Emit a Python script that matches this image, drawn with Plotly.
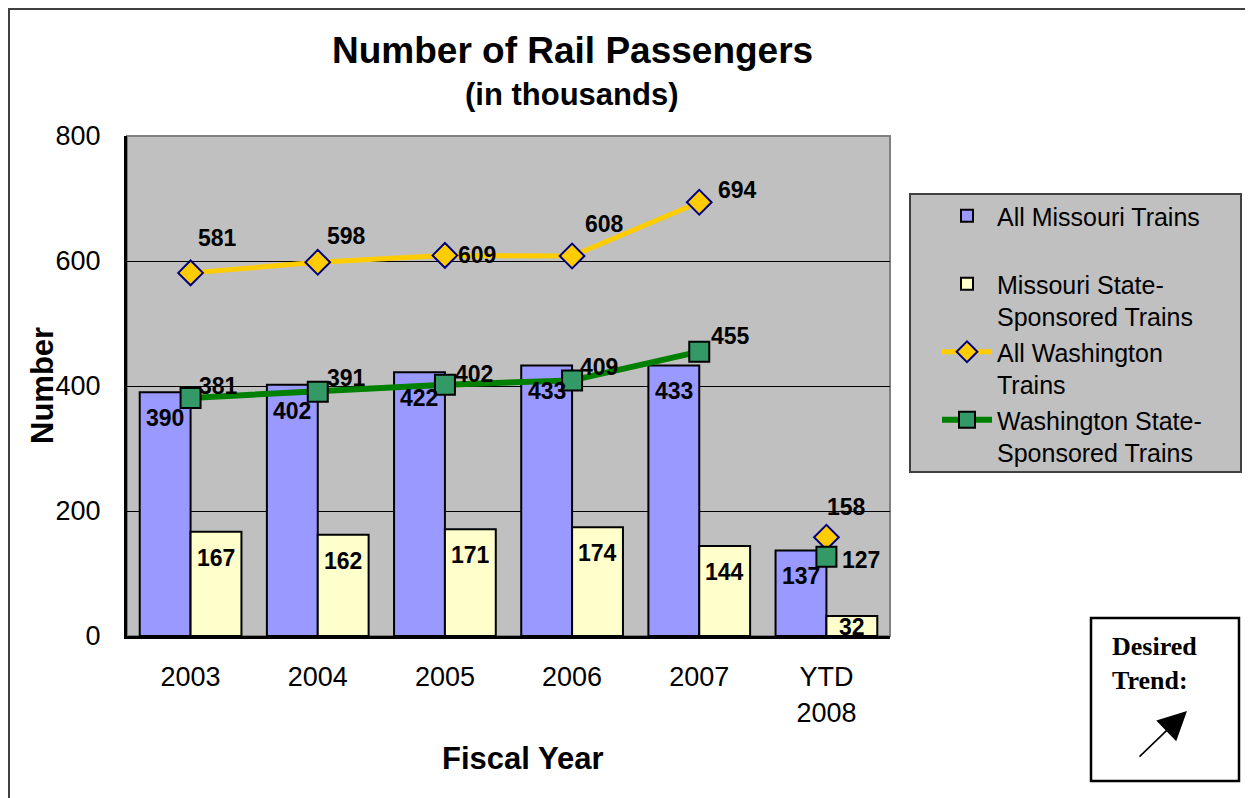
import plotly.graph_objects as go

categories = ["2003", "2004", "2005", "2006", "2007", "YTD<br>2008"]
all_missouri = [390, 402, 422, 433, 433, 137]
missouri_state = [167, 162, 171, 174, 144, 32]
all_washington = [581, 598, 609, 608, 694, 158]
washington_state = [381, 391, 402, 409, 455, 127]

series_names = ["All Missouri Trains<br>&nbsp;", "Missouri State-<br>Sponsored Trains",
                "All Washington<br>Trains", "Washington State-<br>Sponsored Trains"]

# label offsets (pixels) for line labels
yellow_offsets = [(27, 35), (29, 26), (32, 0), (32, 32), (38, 12), (20, 30)]
green_offsets = [(28, 12), (29, 14), (29, 11), (27, 13), (31, 16), (35, -3)]

FONT = "Liberation Sans, Arial, sans-serif"
OFF = 8  # default page body margin
W, H = 1253 - OFF, 798 - OFF
# plot area in reference (page) coordinates
L, R, T, B = 127, 890, 136, 636


def px(x):
    return (x - L) / (R - L)


def py(y):
    return (B - y) / (B - T)


fig = go.Figure()
fig.add_trace(go.Bar(x=categories, y=all_missouri, name=series_names[0],
                     marker=dict(color="#9999FF", line=dict(color="black", width=2))))
fig.add_trace(go.Bar(x=categories, y=missouri_state, name=series_names[1],
                     marker=dict(color="#FFFFCC", line=dict(color="black", width=2))))

n = len(categories)
diamond = dict(symbol="diamond", size=19, color="#FFCC00", line=dict(color="#000080", width=2))
square = dict(symbol="square", size=20, color="#339966", line=dict(color="black", width=2))
# All Washington
fig.add_trace(go.Scatter(x=categories[:n - 1], y=all_washington[:n - 1], mode="lines+markers",
                         name=series_names[2], legendgroup="aw",
                         line=dict(color="#FFCC00", width=5), marker=diamond))
fig.add_trace(go.Scatter(x=categories[n - 1:], y=all_washington[n - 1:], mode="markers",
                         showlegend=False, legendgroup="aw", marker=diamond))
# Washington State
fig.add_trace(go.Scatter(x=categories[:n - 1], y=washington_state[:n - 1], mode="lines+markers",
                         name=series_names[3], legendgroup="ws",
                         line=dict(color="#008000", width=6), marker=square))
fig.add_trace(go.Scatter(x=categories[n - 1:], y=washington_state[n - 1:], mode="markers",
                         showlegend=False, legendgroup="ws", marker=square))

annotations = []
lab_font = dict(family=FONT, size=23, color="black")
for i, v in enumerate(all_missouri):
    annotations.append(dict(x=i - 0.2, y=v, xref="x", yref="y", text=f"<b>{v}</b>",
                            xanchor="center", yanchor="middle",
                            showarrow=False, yshift=-26 if v > 60 else -11, font=lab_font))
for i, v in enumerate(missouri_state):
    annotations.append(dict(x=i + 0.2, y=v, xref="x", yref="y", text=f"<b>{v}</b>",
                            xanchor="center", yanchor="middle",
                            showarrow=False, yshift=-26 if v > 60 else -11, font=lab_font))
for i, v in enumerate(all_washington):
    dx, dy = yellow_offsets[i]
    annotations.append(dict(x=i, y=v, xref="x", yref="y", text=f"<b>{v}</b>",
                            xanchor="center", yanchor="middle",
                            showarrow=False, xshift=dx, yshift=dy, font=lab_font))
for i, v in enumerate(washington_state):
    dx, dy = green_offsets[i]
    annotations.append(dict(x=i, y=v, xref="x", yref="y", text=f"<b>{v}</b>",
                            xanchor="center", yanchor="middle",
                            showarrow=False, xshift=dx, yshift=dy, font=lab_font))

# titles
annotations += [
    dict(x=px(572), y=py(50), xref="paper", yref="paper", text="<b>Number of Rail Passengers</b>",
         xanchor="center", yanchor="middle",
         showarrow=False, font=dict(family=FONT, size=37, color="black")),
    dict(x=px(572), y=py(95), xref="paper", yref="paper", text="<b>(in thousands)</b>",
         xanchor="center", yanchor="middle",
         showarrow=False, font=dict(family=FONT, size=31, color="black")),
    dict(x=px(42), y=py(386), xref="paper", yref="paper", text="<b>Number</b>", textangle=-90,
         xanchor="center", yanchor="middle",
         showarrow=False, font=dict(family=FONT, size=31, color="black")),
    dict(x=px(522), y=py(758), xref="paper", yref="paper", text="<b>Fiscal Year</b>",
         xanchor="center", yanchor="middle",
         showarrow=False, font=dict(family=FONT, size=31, color="black")),
    dict(x=px(1110), y=py(630), xref="paper", yref="paper", xanchor="left", yanchor="top",
         align="left", text="<b>Desired<br>Trend:</b>", showarrow=False,
         font=dict(family="Liberation Serif, Times New Roman, serif", size=26, color="black")),
    dict(x=px(1187), y=py(711), xref="paper", yref="paper", text="", showarrow=True,
         ax=-49, ay=47, axref="pixel", ayref="pixel", arrowhead=2, arrowsize=3.6,
         arrowwidth=1.6, arrowcolor="black"),
]

shapes = [
    # outer border
    dict(type="rect", xref="paper", yref="paper", x0=px(9), x1=px(1270), y0=py(815), y1=py(9),
         line=dict(color="#404040", width=2), layer="below"),
    # plot frame top/right
    dict(type="rect", xref="paper", yref="paper", x0=0, x1=1, y0=0, y1=1,
         line=dict(color="#808080", width=2), layer="below"),
    # legend box
    dict(type="rect", xref="paper", yref="paper", x0=px(910), x1=px(1241), y0=py(472), y1=py(194),
         line=dict(color="#404040", width=2), fillcolor="#C0C0C0", layer="below"),
    # desired trend box
    dict(type="rect", xref="paper", yref="paper", x0=px(1091), x1=px(1239), y0=py(781), y1=py(618),
         line=dict(color="black", width=2.5), fillcolor="white", layer="below"),
]

fig.update_layout(
    width=W, height=H,
    margin=dict(l=L - OFF, r=W - (R - OFF), t=T - OFF, b=H - (B - OFF), autoexpand=False),
    paper_bgcolor="white", plot_bgcolor="#C0C0C0",
    barmode="group", bargap=0.2, bargroupgap=0,
    font=dict(family=FONT, size=27, color="black"),
    showlegend=True,
    legend=dict(x=px(937), y=py(193), xanchor="left", yanchor="top",
                bgcolor="rgba(0,0,0,0)", borderwidth=0, valign="top",
                font=dict(family=FONT, size=25, color="black"),
                tracegroupgap=0, itemwidth=50),
    annotations=annotations, shapes=shapes,
)
fig.update_xaxes(type="category", range=[-0.5, n - 0.5], showline=True, linecolor="black",
                 linewidth=3, ticks="", showgrid=False, ticklabelstandoff=15,
                 tickfont=dict(family=FONT, size=27))
fig.update_yaxes(range=[0, 800], dtick=200, showline=True, linecolor="black", linewidth=3,
                 showgrid=True, gridcolor="black", gridwidth=1, zeroline=False,
                 ticks="", ticklabelstandoff=18,
                 tickfont=dict(family=FONT, size=27))

fig.write_html("out.html")
